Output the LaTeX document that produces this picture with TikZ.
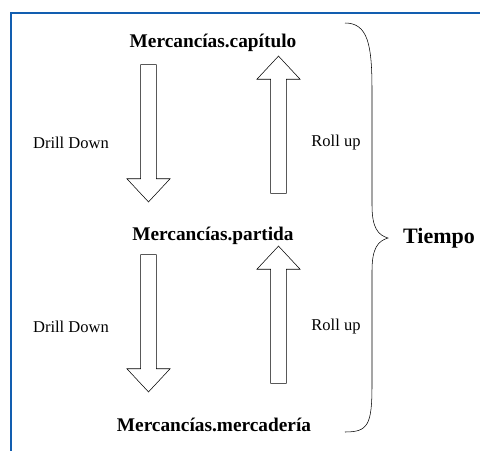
\documentclass[tikz,border=0pt]{standalone}
\usepackage{fontspec}
\setmainfont{Liberation Serif}
\usetikzlibrary{shapes.arrows}
\definecolor{frameblue}{RGB}{18,94,176}

\begin{document}
\begin{tikzpicture}[x=0.75pt,y=-0.75pt,
    level/.style={font=\bfseries\fontsize{14.5}{17}\selectfont},
    oplabel/.style={font=\fontsize{12.4}{15}\selectfont},
    blockarrow/.style={single arrow,draw,thin,inner sep=0pt,minimum width=32pt,
        single arrow head extend=10.25pt,single arrow tip angle=86,minimum height=103pt,
        text width=11.5pt}]

                \useasboundingbox (0,0) rectangle (480,451);
                \draw[frameblue,line width=2pt] (480,13) -- (11,13) -- (11,451);

                \node[level] (cap) at (213,43) {Mercancías.capítulo};
                \node[level] (par) at (213,236) {Mercancías.partida};
                \node[level] (mer) at (214,425) {Mercancías.mercadería};

                \node[blockarrow,shape border rotate=270] (d1) at (148.5,129) {};
                \node[blockarrow,shape border rotate=90]  (u1) at (278.5,129) {};
                \node[blockarrow,shape border rotate=270] (d2) at (148.5,319) {};
                \node[blockarrow,shape border rotate=90]  (u2) at (278.5,319) {};

                \node[oplabel] (dd1) at (71,143) {Drill Down};
                \node[oplabel] (ru1) at (336,143) {Roll up};
                \node[oplabel] (dd2) at (71,327) {Drill Down};
                \node[oplabel] (ru2) at (336,327) {Roll up};

                \node[font=\bfseries\fontsize{16.5}{20}\selectfont] (tiempo) at (439,238) {Tiempo};

                \draw[thin] (345,23) .. controls (368,23) and (372,45) .. (372,90)
                    -- (372,205) .. controls (372,228) and (378,235) .. (388,238)
                    .. controls (378,241) and (372,248) .. (372,271)
                    -- (372,385) .. controls (372,425) and (368,432) .. (345,432);
            \end{tikzpicture}
\end{document}
